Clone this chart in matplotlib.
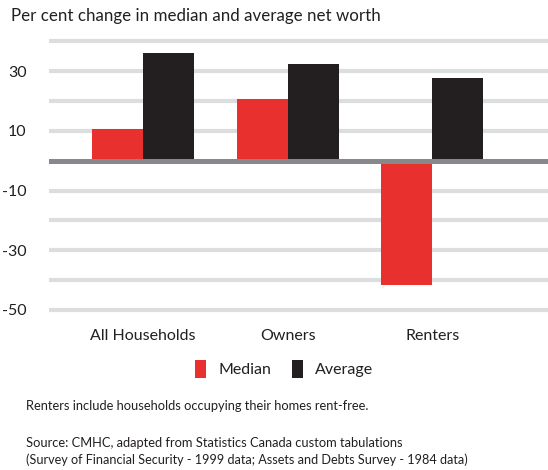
import matplotlib
matplotlib.use("Agg")
import matplotlib.pyplot as plt
import numpy as np

# Per cent change in net worth, 1984 to 1999
categories = ["All Households", "Owners", "Renters"]
median_change = [10.6, 20.7, -41.6]
average_change = [36.1, 32.4, 27.7]
yticks = [30, 10, -10, -30, -50]
ytick_labels = ["30", "10", "-10", "-30", "-50"]
gridlines = [40, 30, 20, 10, -10, -20, -30, -40, -50]

RED = "#e8302e"
BLACK = "#231f20"
GRID = "#dcdddf"
ZERO = "#87888b"
TEXT = "#231f20"

plt.rcParams["font.family"] = ["Lato", "DejaVu Sans"]

W, H = 548, 470
fig = plt.figure(figsize=(W / 100, H / 100), dpi=100)

ax = fig.add_axes([48.7 / W, 1 - 321.9 / H, (W - 48.7) / W, (321.9 - 35.3) / H])

x = np.arange(len(categories))
bw = 0.353
ax.bar(x - bw / 2, median_change, width=bw, color=RED, zorder=3, label="Median")
ax.bar(x + bw / 2, average_change, width=bw, color=BLACK, zorder=3, label="Average")

for g in gridlines:
    ax.axhline(g, color=GRID, lw=3.0, zorder=1)
ax.axhline(0, color=ZERO, lw=3.6, zorder=4)

ax.set_xlim(-0.652, 2.80)
ax.set_ylim(-54, 42)
ax.set_yticks(yticks)
ax.set_yticklabels(ytick_labels)
ax.set_xticks(x)
ax.set_xticklabels(categories)
ax.tick_params(axis="both", length=0, labelsize=11.5, colors=TEXT)
ax.tick_params(axis="y", pad=16)
ax.tick_params(axis="x", pad=5)
for s in ax.spines.values():
    s.set_visible(False)

fig.text(11 / W, 1 - 16 / H, "Per cent change in median and average net worth",
         fontsize=12.2, color=TEXT, va="center", ha="left")

fig.legend(loc="center", bbox_to_anchor=(284 / W, 1 - 369 / H), ncol=2,
           frameon=False, fontsize=11.5, handlelength=0.7, handleheight=1.3,
           columnspacing=1.3, handletextpad=0.75, labelcolor=TEXT)

fig.text(26 / W, 1 - 406.5 / H, "Renters include households occupying their homes rent-free.",
         fontsize=9.3, color=TEXT, va="center", ha="left")
fig.text(26 / W, 1 - 443 / H, "Source: CMHC, adapted from Statistics Canada custom tabulations",
         fontsize=9.3, color=TEXT, va="center", ha="left")
fig.text(26 / W, 1 - 460 / H, "(Survey of Financial Security - 1999 data; Assets and Debts Survey - 1984 data)",
         fontsize=9.1, color=TEXT, va="center", ha="left")

fig.savefig("out.png", dpi=100)
